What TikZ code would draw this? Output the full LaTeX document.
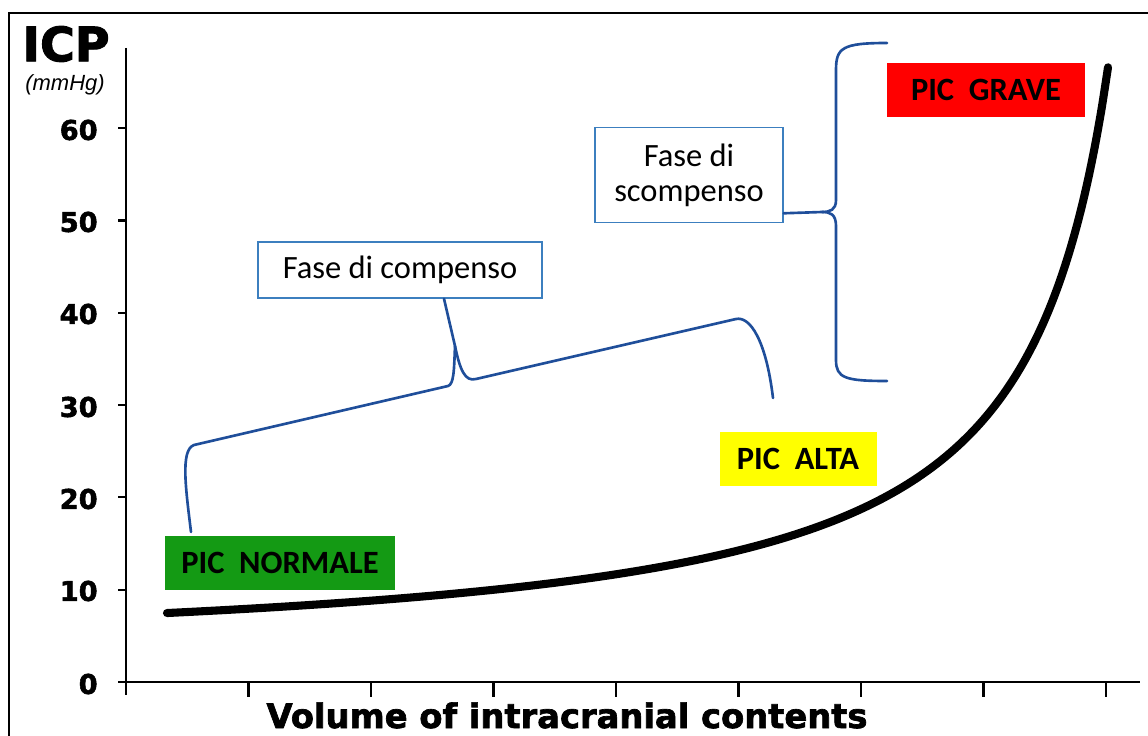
\documentclass[tikz,border=0pt]{standalone}
\usepackage{fontspec}
\usepackage{tikz}
\usetikzlibrary{positioning,calc}
\setmainfont{Carlito}
\newfontfamily\axisfont{DejaVu Sans}[BoldFeatures={FakeBold=2}]
\newfontfamily\unitfont{Liberation Sans}
\definecolor{IcpGreen}{HTML}{149A14}
\definecolor{IcpYellow}{HTML}{FFFF00}
\definecolor{IcpRed}{HTML}{FF0000}
\definecolor{IcpBrace}{HTML}{1F4E9A}
\definecolor{IcpFrame}{HTML}{3C7FBF}

\begin{document}
\begin{tikzpicture}[
  x=0.02cm,y=-0.02cm,
  picbox/.style={inner sep=0pt,minimum height=1.08cm,font=\fontsize{18.5}{22}\selectfont\bfseries},
  phasebox/.style={draw=IcpFrame,line width=0.9pt,fill=white,inner sep=0pt,align=center,
    font=\fontsize{18.5}{20}\selectfont},
  ticklab/.style={anchor=east,inner sep=0pt,font=\axisfont\bfseries\fontsize{15.5}{18}\selectfont},
  axisline/.style={line width=1.2pt,draw=black},
  brace/.style={line width=1.5pt,draw=IcpBrace,line join=round,line cap=round}
]
\useasboundingbox (0,0) rectangle (1148,736);
% frame
\draw[line width=1.1pt] (9,760) -- (9,13) -- (1170,13);
% axes
\draw[axisline] (126,48) -- (126,695);
\draw[axisline] (118,682) -- (1140,682);
\draw[axisline] (118,589.7) -- (126,589.7);
\draw[axisline] (118,497.4) -- (126,497.4);
\draw[axisline] (118,405.1) -- (126,405.1);
\draw[axisline] (118,312.8) -- (126,312.8);
\draw[axisline] (118,220.5) -- (126,220.5);
\draw[axisline] (118,128.2) -- (126,128.2);
\draw[axisline] (248.5,682) -- (248.5,697);
\draw[axisline] (371,682) -- (371,697);
\draw[axisline] (493.5,682) -- (493.5,697);
\draw[axisline] (616,682) -- (616,697);
\draw[axisline] (738.5,682) -- (738.5,697);
\draw[axisline] (861,682) -- (861,697);
\draw[axisline] (983.5,682) -- (983.5,697);
\draw[axisline] (1106,682) -- (1106,697);
\node[ticklab] (l0) at (98,684) {0};
\node[ticklab] (l10) at (98,591) {10};
\node[ticklab] (l20) at (98,499) {20};
\node[ticklab] (l30) at (98,407) {30};
\node[ticklab] (l40) at (98,314) {40};
\node[ticklab] (l50) at (98,222) {50};
\node[ticklab] (l60) at (98,130) {60};
\node[inner sep=0pt,font=\axisfont\bfseries\fontsize{27}{30}\selectfont] (icp) at (66,44) {ICP};
\node[inner sep=0pt,font=\unitfont\itshape\fontsize{12.5}{14}\selectfont] (unit) at (65,85) {(mmHg)};
\node[anchor=base,inner sep=0pt,font=\axisfont\bfseries\fontsize{19.2}{22}\selectfont] (xlab) at (567,728)
  {Volume of intracranial contents};
% pressure curve
\draw[line width=4.6pt,line cap=round] plot[domain=167:1108,samples=150,smooth]
  (\x,{662.9-512.25/((1194-\x)/100)});
% pressure labels
\node[picbox,fill=IcpGreen,minimum width=4.6cm] (normale) at (280,563) {PIC\ \ NORMALE};
\node[picbox,fill=IcpYellow,minimum width=3.14cm] (alta) at (798,459) {PIC\ \ ALTA};
\node[picbox,fill=IcpRed,minimum width=3.96cm] (grave) at (986,90) {PIC\ \ GRAVE};
% phases
\node[phasebox,minimum width=5.68cm,minimum height=1.12cm] (compenso) at (400,270) {Fase di compenso};
\node[phasebox,minimum width=3.76cm,minimum height=1.9cm] (scompenso) at (689,175) {Fase di\\scompenso};
\coordinate (cTip) at ($(compenso.south)+(44,0)$);
\coordinate (sTip) at ($(scompenso.south east)+(0,-10)$);
\coordinate (cLeft) at (191,532);
\coordinate (cRight) at (773,398);
\coordinate (sTop) at (887,43);
\coordinate (sBot) at (887,381);
\draw[brace] (cLeft) .. controls (186,490) and (180,450) .. (194,445) -- (448,386)
  .. controls (454,384) and (454,370) .. (455,346);
\draw[brace] (cTip) -- (455,346) .. controls (460,370) and (465,382) .. (476,379) -- (736,319)
  .. controls (750,316) and (766,340) .. (cRight);
\draw[brace] (sTop) .. controls (842,43) and (836,48) .. (836,70) -- (836,200)
  .. controls (836,210) and (830,212) .. (822,212) -- (sTip);
\draw[brace] (822,212) .. controls (830,212) and (836,214) .. (836,226) -- (836,360)
  .. controls (836,378) and (845,381) .. (sBot);
\end{tikzpicture}
\end{document}
